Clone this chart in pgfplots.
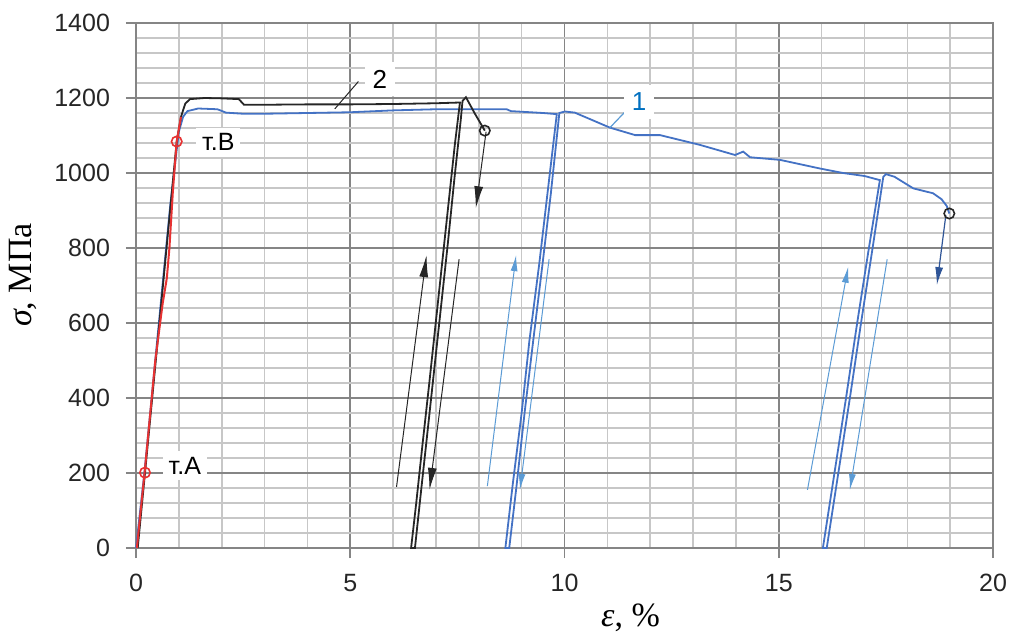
\documentclass[border=0pt]{standalone}
\usepackage{fontspec}
\setmainfont{Liberation Sans}
\newfontfamily\serif{Liberation Serif}
\usepackage{pgfplots}
\pgfplotsset{compat=1.18}
\usetikzlibrary{arrows.meta}

\definecolor{c1}{RGB}{68,114,196}
\definecolor{c1arr}{RGB}{91,155,213}
\definecolor{c1dark}{RGB}{47,85,151}
\definecolor{c1txt}{RGB}{0,112,192}
\definecolor{c2}{RGB}{38,38,38}
\definecolor{cred}{RGB}{230,50,50}

\begin{document}
\begin{tikzpicture}
\begin{axis}[
    name=ax,
    scale only axis,
    width=428.5pt, height=262.5pt,
    xmin=0, xmax=20, ymin=0, ymax=1400,
    xtick={0,5,...,20}, ytick={0,200,...,1400},
    minor x tick num=4, minor y tick num=4,
    grid=both,
    major grid style={black!48, line width=0.9pt},
    minor grid style={black!22, line width=0.8pt},
    axis line style={black!48, line width=0.9pt},
    tick align=outside, major tick length=5pt, minor tick length=0pt,
    tick style={black!48, line width=0.9pt},
    xtick pos=bottom, ytick pos=left,
    /pgf/number format/assume math mode=true,
    /pgf/number format/1000 sep={},
    ticklabel style={font=\fontsize{12.5}{14}\selectfont, text=black!85},
    xticklabel style={yshift=-4.5pt},
    yticklabel style={xshift=-4.5pt},
    xlabel={\serif{\itshape ε}, \%},
    ylabel={\serif{\itshape σ}, МПа},
    every axis x label/.style={at={(axis description cs:0.577,-0.133)}, anchor=center, font=\fontsize{17}{19}\selectfont},
    every axis y label/.style={at={(axis description cs:-0.132,0.52)}, rotate=90, anchor=center, font=\fontsize{17}{19}\selectfont\serif},
    clip=false,
]
% curve 1 (blue)
\addplot[c1, line width=0.9pt] coordinates {
 (0.0,0) (0.2,205) (0.5,560) (0.8,915) (1.0,1110) (1.1,1150) (1.2,1165) (1.45,1172)
 (1.9,1170) (2.1,1161) (2.5,1158) (3,1158) (4,1160) (5,1162) (6,1167) (7,1170)
 (8,1170) (8.65,1170) (8.75,1165) (9.5,1160) (9.82,1157)
 (9.60,943) (9.41,757) (9.18,552) (9.00,360) (8.79,168) (8.62,0)
 (8.71,0) (8.88,165) (9.07,362) (9.27,553) (9.49,760) (9.68,944) (9.88,1160)
 (10.01,1164) (10.24,1161) (11.06,1121) (11.65,1101) (12.23,1101) (13.16,1075)
 (13.98,1048) (14.17,1057) (14.33,1042) (15.03,1035) (15.96,1012) (16.5,1000)
 (17.0,992) (17.36,981)
 (17.09,790) (16.83,600) (16.57,400) (16.30,200) (16.03,0)
 (16.12,0) (16.39,200) (16.66,400) (16.92,600) (17.19,800) (17.44,990)
 (17.5,997) (17.7,990) (18.14,959) (18.6,946) (18.8,930) (18.92,912) (18.98,892)
};
% curve 2 (black)
\addplot[c2, line width=0.9pt] coordinates {
 (0.04,0) (0.21,200) (0.5,545) (0.8,905) (0.95,1084) (1.05,1150) (1.15,1185)
 (1.26,1197) (1.6,1200) (2.0,1199) (2.4,1197) (2.52,1182) (3,1182) (4,1183)
 (5,1183) (6,1184) (7,1186) (7.56,1188)
 (7.44,1075) (7.29,915) (7.14,755) (6.99,595) (6.84,435) (6.69,280) (6.54,120) (6.42,0)
 (6.51,0) (6.66,160) (6.82,328) (6.97,487) (7.13,656) (7.28,815) (7.43,984)
 (7.58,1143) (7.62,1192) (7.70,1202) (7.90,1160) (8.14,1113)
};
% red initial segment
\addplot[cred, line width=1pt] coordinates {
 (0.02,0) (0.2,200) (0.45,500) (0.62,650) (0.72,720) (0.78,800) (0.86,950)
 (0.95,1084) (1.05,1150)
};
% loading / unloading arrows
\addplot[c2, line width=0.5pt, -{Latex[length=11pt,width=4.5pt]}] coordinates {(6.08,163) (6.78,781)};
\addplot[c2, line width=0.5pt, -{Latex[length=11pt,width=4.5pt]}] coordinates {(7.54,770) (6.85,155)};
\addplot[c2, line width=0.5pt, -{Latex[length=11pt,width=4.5pt]}] coordinates {(8.17,1110) (7.93,906)};
\addplot[c1arr, line width=0.5pt, -{Latex[length=8pt,width=3.5pt]}] coordinates {(8.20,165) (8.87,781)};
\addplot[c1arr, line width=0.5pt, -{Latex[length=8pt,width=3.5pt]}] coordinates {(9.64,770) (8.96,155)};
\addplot[c1arr, line width=0.5pt, -{Latex[length=8pt,width=3.5pt]}] coordinates {(15.67,155) (16.62,750)};
\addplot[c1arr, line width=0.5pt, -{Latex[length=8pt,width=3.5pt]}] coordinates {(17.53,770) (16.66,155)};
\addplot[c1dark, line width=0.6pt, -{Latex[length=9pt,width=4pt]}] coordinates {(18.90,888) (18.69,701)};
% label leaders
\addplot[c2, line width=0.5pt] coordinates {(5.19,1244) (4.64,1171)};
\addplot[c1arr, line width=0.6pt] coordinates {(11.47,1170) (11.06,1121)};
% points
\addplot[only marks, mark=o, mark size=2.6pt, mark options={draw=cred, fill=white, line width=0.8pt}] coordinates {(0.21,201) (0.95,1084)};
\addplot[only marks, mark=o, mark size=2.6pt, mark options={draw=c2, fill=white, line width=0.8pt}] coordinates {(8.14,1113) (18.98,892)};
% labels
\node[fill=white, inner sep=3pt, font=\fontsize{12.5}{14}\selectfont] at (axis cs:1.92,1082) {т.В};
\node[fill=white, inner sep=3pt, font=\fontsize{12.5}{14}\selectfont] at (axis cs:1.14,220) {т.А};
\node[fill=white, inner sep=4pt, font=\fontsize{13}{15}\selectfont] at (axis cs:5.69,1250) {2};
\node[fill=white, inner sep=4pt, font=\fontsize{13}{15}\selectfont, text=c1txt] at (axis cs:11.74,1190) {1};
\end{axis}
\path (ax.south west) ++(-68pt,-42.5pt) coordinate (bbA);
\path (ax.north east) ++(8.5pt,11.5pt) coordinate (bbB);
\pgfresetboundingbox
\path[use as bounding box] (bbA) rectangle (bbB);
\end{tikzpicture}
\end{document}
